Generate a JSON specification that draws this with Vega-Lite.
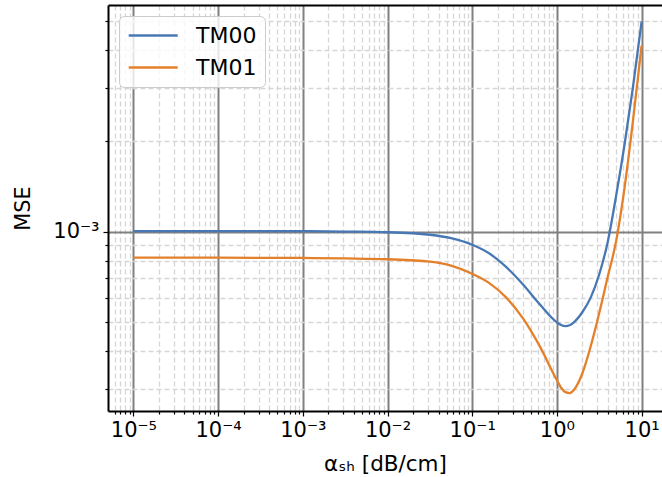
{
  "$schema": "https://vega.github.io/schema/vega-lite/v6.json",
  "width": 554,
  "height": 406,
  "autosize": {"type": "none"},
  "padding": {"left": 108, "top": 5, "right": 0, "bottom": 66},
  "config": {"view": {"stroke": null}, "font": "DejaVu Sans"},
  "data": {"values": [
    {"x": 0.00001, "mse": 0.001005, "mode": "TM00"},
    {"x": 0.0001, "mse": 0.001005, "mode": "TM00"},
    {"x": 0.001, "mse": 0.001004, "mode": "TM00"},
    {"x": 0.00316, "mse": 0.001001, "mode": "TM00"},
    {"x": 0.01, "mse": 0.000996, "mode": "TM00"},
    {"x": 0.0316, "mse": 0.000977, "mode": "TM00"},
    {"x": 0.0562, "mse": 0.000952, "mode": "TM00"},
    {"x": 0.1, "mse": 0.000905, "mode": "TM00"},
    {"x": 0.158, "mse": 0.000848, "mode": "TM00"},
    {"x": 0.251, "mse": 0.000764, "mode": "TM00"},
    {"x": 0.398, "mse": 0.000668, "mode": "TM00"},
    {"x": 0.631, "mse": 0.000573, "mode": "TM00"},
    {"x": 1.0, "mse": 0.0005, "mode": "TM00"},
    {"x": 1.122, "mse": 0.00049, "mode": "TM00"},
    {"x": 1.259, "mse": 0.000486, "mode": "TM00"},
    {"x": 1.413, "mse": 0.000489, "mode": "TM00"},
    {"x": 1.585, "mse": 0.0005, "mode": "TM00"},
    {"x": 1.995, "mse": 0.00054, "mode": "TM00"},
    {"x": 2.512, "mse": 0.000605, "mode": "TM00"},
    {"x": 3.162, "mse": 0.000722, "mode": "TM00"},
    {"x": 3.981, "mse": 0.000925, "mode": "TM00"},
    {"x": 5.012, "mse": 0.00132, "mode": "TM00"},
    {"x": 6.31, "mse": 0.00196, "mode": "TM00"},
    {"x": 7.943, "mse": 0.00305, "mode": "TM00"},
    {"x": 10.0, "mse": 0.00499, "mode": "TM00"},
    {"x": 0.00001, "mse": 0.00082, "mode": "TM01"},
    {"x": 0.0001, "mse": 0.00082, "mode": "TM01"},
    {"x": 0.001, "mse": 0.000818, "mode": "TM01"},
    {"x": 0.00316, "mse": 0.000815, "mode": "TM01"},
    {"x": 0.01, "mse": 0.00081, "mode": "TM01"},
    {"x": 0.0316, "mse": 0.000795, "mode": "TM01"},
    {"x": 0.0562, "mse": 0.000772, "mode": "TM01"},
    {"x": 0.1, "mse": 0.000725, "mode": "TM01"},
    {"x": 0.158, "mse": 0.000676, "mode": "TM01"},
    {"x": 0.251, "mse": 0.000605, "mode": "TM01"},
    {"x": 0.398, "mse": 0.000515, "mode": "TM01"},
    {"x": 0.631, "mse": 0.000415, "mode": "TM01"},
    {"x": 1.0, "mse": 0.000321, "mode": "TM01"},
    {"x": 1.122, "mse": 0.000303, "mode": "TM01"},
    {"x": 1.259, "mse": 0.000293, "mode": "TM01"},
    {"x": 1.413, "mse": 0.000291, "mode": "TM01"},
    {"x": 1.585, "mse": 0.000298, "mode": "TM01"},
    {"x": 1.995, "mse": 0.000338, "mode": "TM01"},
    {"x": 2.512, "mse": 0.000417, "mode": "TM01"},
    {"x": 3.162, "mse": 0.000537, "mode": "TM01"},
    {"x": 3.981, "mse": 0.000708, "mode": "TM01"},
    {"x": 5.012, "mse": 0.000933, "mode": "TM01"},
    {"x": 6.31, "mse": 0.00141, "mode": "TM01"},
    {"x": 7.943, "mse": 0.00236, "mode": "TM01"},
    {"x": 10.0, "mse": 0.00415, "mode": "TM01"}
  ]},
  "layer": [
    {
      "mark": {"type": "line", "opacity": 0},
      "encoding": {
        "x": {"field": "x", "type": "quantitative",
          "scale": {"type": "log", "domain": [0.0000050119, 17.41], "nice": false},
          "axis": {"orient": "top", "domain": true, "domainColor": "black", "domainWidth": 2, "ticks": false, "labels": false, "grid": false, "title": null}},
        "y": {"field": "mse", "type": "quantitative",
          "scale": {"type": "log", "domain": [0.0002537, 0.005665], "nice": false},
          "axis": null}
      }
    },
    {
      "mark": {"type": "line", "strokeWidth": 2.3, "interpolate": "monotone"},
      "encoding": {
        "x": {"field": "x", "type": "quantitative",
          "scale": {"type": "log", "domain": [0.0000050119, 17.41], "nice": false},
          "axis": {
            "orient": "bottom",
            "title": "αₛₕ [dB/cm]",
            "titleFont": "DejaVu Sans", "titleFontSize": 21.5, "titleFontWeight": "normal", "titleColor": "black", "titlePadding": 13,
            "values": [0.000006, 0.000007, 0.000008, 0.000009,
              0.00001, 0.00002, 0.00003, 0.00004, 0.00005, 0.00006, 0.00007, 0.00008, 0.00009,
              0.0001, 0.0002, 0.0003, 0.0004, 0.0005, 0.0006, 0.0007, 0.0008, 0.0009,
              0.001, 0.002, 0.003, 0.004, 0.005, 0.006, 0.007, 0.008, 0.009,
              0.01, 0.02, 0.03, 0.04, 0.05, 0.06, 0.07, 0.08, 0.09,
              0.1, 0.2, 0.3, 0.4, 0.5, 0.6, 0.7, 0.8, 0.9,
              1, 2, 3, 4, 5, 6, 7, 8, 9, 10],
            "labelExpr": "['10⁻⁵','10⁻⁴','10⁻³','10⁻²','10⁻¹','10⁰','10¹'][indexof([0.00001,0.0001,0.001,0.01,0.1,1,10], datum.value)] || ''",
            "labelOverlap": false, "labelFlush": false, "labelBound": false,
            "labelFont": "DejaVu Sans", "labelFontSize": 21, "labelColor": "black", "labelPadding": 3,
            "domain": true, "domainColor": "black", "domainWidth": 2,
            "ticks": true, "tickColor": "black", "tickWidth": 1.2,
            "tickSize": {"condition": {"test": "indexof([0.00001,0.0001,0.001,0.01,0.1,1,10], datum.value) >= 0", "value": 5}, "value": 3},
            "grid": true,
            "gridColor": {"condition": {"test": "indexof([0.00001,0.0001,0.001,0.01,0.1,1,10], datum.value) >= 0", "value": "#808080"}, "value": "#d6d6d6"},
            "gridDash": {"condition": {"test": "indexof([0.00001,0.0001,0.001,0.01,0.1,1,10], datum.value) >= 0", "value": []}, "value": [5, 3]},
            "gridWidth": {"condition": {"test": "indexof([0.00001,0.0001,0.001,0.01,0.1,1,10], datum.value) >= 0", "value": 2}, "value": 1.3}
          }},
        "y": {"field": "mse", "type": "quantitative",
          "scale": {"type": "log", "domain": [0.0002537, 0.005665], "nice": false},
          "axis": {
            "orient": "left",
            "title": "MSE",
            "titleFont": "DejaVu Sans", "titleFontSize": 20.8, "titleFontWeight": "normal", "titleColor": "black", "titlePadding": 19,
            "values": [0.0003, 0.0004, 0.0005, 0.0006, 0.0007, 0.0008, 0.0009, 0.001, 0.002, 0.003, 0.004, 0.005],
            "labelExpr": "datum.value == 0.001 ? '10⁻³' : ''",
            "labelOverlap": false, "labelFlush": false, "labelBound": false,
            "labelFont": "DejaVu Sans", "labelFontSize": 21, "labelColor": "black", "labelPadding": 4,
            "domain": true, "domainColor": "black", "domainWidth": 2,
            "ticks": true, "tickColor": "black", "tickWidth": 1.2,
            "tickSize": {"condition": {"test": "datum.value == 0.001", "value": 5}, "value": 3},
            "grid": true,
            "gridColor": {"condition": {"test": "datum.value == 0.001", "value": "#808080"}, "value": "#d6d6d6"},
            "gridDash": {"condition": {"test": "datum.value == 0.001", "value": []}, "value": [5, 3]},
            "gridWidth": {"condition": {"test": "datum.value == 0.001", "value": 2}, "value": 1.3}
          }},
        "color": {"field": "mode", "type": "nominal",
          "scale": {"domain": ["TM00", "TM01"], "range": ["#4878b4", "#e4802a"]},
          "legend": {
            "title": null, "orient": "top-left", "offset": 11,
            "symbolType": "M-1,0H4", "symbolSize": 384, "symbolStrokeWidth": 2.5,
            "labelFont": "DejaVu Sans", "labelFontSize": 22, "labelColor": "black", "labelOffset": 46,
            "rowPadding": 9, "padding": 8,
            "fillColor": "rgba(255,255,255,0.8)", "strokeColor": "#cccccc", "cornerRadius": 5
          }}
      }
    }
  ],
  "resolve": {"axis": {"x": "independent", "y": "independent"}}
}
